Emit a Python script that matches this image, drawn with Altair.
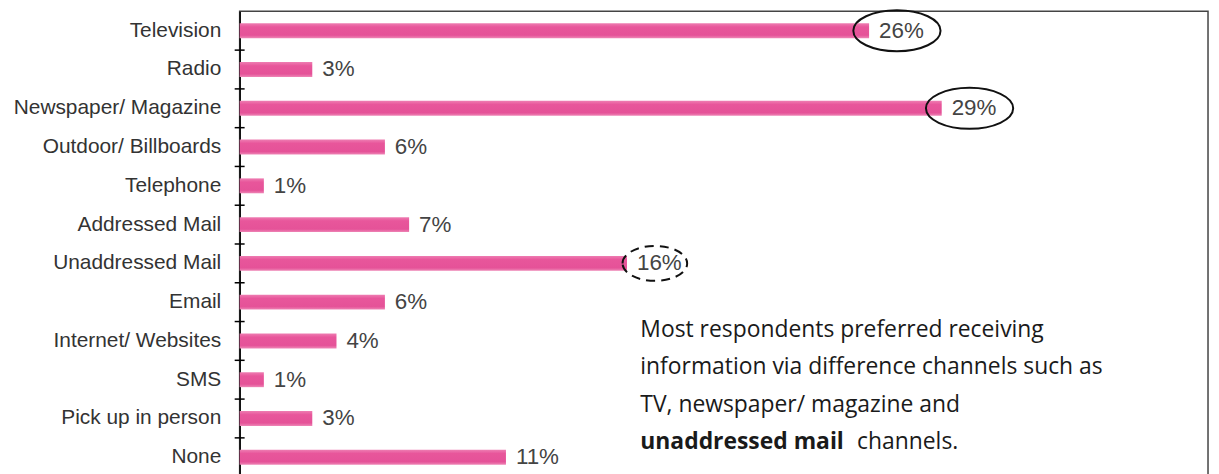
import altair as alt
import pandas as pd

# ---- data ----
categories = ["Television", "Radio", "Newspaper/ Magazine", "Outdoor/ Billboards",
              "Telephone", "Addressed Mail", "Unaddressed Mail", "Email",
              "Internet/ Websites", "SMS", "Pick up in person", "None"]
values = [26, 3, 29, 6, 1, 7, 16, 6, 4, 1, 3, 11]
value_labels = [f"{v}%" for v in values]
circled_solid = ["Television", "Newspaper/ Magazine"]
circled_dashed = ["Unaddressed Mail"]
note_lines = ["Most respondents preferred receiving",
              "information via difference channels such as",
              "TV, newspaper/ magazine and"]
note_bold = "unaddressed mail"
note_tail = "channels."

df = pd.DataFrame({"cat": categories, "val": values, "label": value_labels})

LABEL_FONT = "Liberation Sans"
NOTE_FONT = "Open Sans"


def ellipse_path(ry):
    k = 0.5523
    return (f"M -1 0 C -1 {-k*ry:.4f} {-k:.4f} {-ry:.4f} 0 {-ry:.4f} "
            f"C {k:.4f} {-ry:.4f} 1 {-k*ry:.4f} 1 0 "
            f"C 1 {k*ry:.4f} {k:.4f} {ry:.4f} 0 {ry:.4f} "
            f"C {-k:.4f} {ry:.4f} -1 {k*ry:.4f} -1 0 Z")


x_enc = alt.X("val:Q", scale=alt.Scale(domain=[0, 40], nice=False, zero=True), axis=None)
y_enc = alt.Y("cat:N", sort=categories, title=None,
              scale=alt.Scale(paddingInner=0, paddingOuter=0),
              axis=alt.Axis(labelFont=LABEL_FONT, labelFontSize=21, labelColor="#333333",
                            labelPadding=19, ticks=False, tickSize=0, domain=True,
                            domainColor="#000000", domainWidth=1.5, grid=False,
                            labelLimit=300))
y_plain = alt.Y("cat:N", sort=categories)

bar_fill = alt.Gradient(
    gradient="linear",
    stops=[alt.GradientStop(color="#ee7db2", offset=0),
           alt.GradientStop(color="#e8569b", offset=0.25),
           alt.GradientStop(color="#e55298", offset=0.8),
           alt.GradientStop(color="#ee86b6", offset=1)],
    x1=0, x2=0, y1=0, y2=1)

bars = alt.Chart(df).mark_bar(height=15, color=bar_fill).encode(x=x_enc, y=y_enc)

texts = alt.Chart(df).mark_text(align="left", baseline="middle", dx=10, font=LABEL_FONT,
                                fontSize=22.5, color="#444444").encode(
    x=x_enc, y=y_plain, text="label:N")

ticks = alt.Chart(df).transform_filter(
    alt.datum.cat != categories[0]
).mark_rule(color="#000000", strokeWidth=1.5).encode(
    y=alt.Y("cat:N", sort=categories, bandPosition=0),
    x=alt.value(-5), x2=alt.value(5))

solid_ell = alt.Chart(df).transform_filter(
    alt.FieldOneOfPredicate(field="cat", oneOf=circled_solid)
).mark_point(shape=ellipse_path(0.47), size=7700, filled=False, color="#111111",
             strokeWidth=2, opacity=1, xOffset=28).encode(x=x_enc, y=y_plain)

dashed_ell = alt.Chart(df).transform_filter(
    alt.FieldOneOfPredicate(field="cat", oneOf=circled_dashed)
).mark_point(shape=ellipse_path(0.54), size=4225, filled=False, color="#111111",
             strokeWidth=2, opacity=1, strokeDash=[9, 6], xOffset=28).encode(x=x_enc, y=y_plain)

note_layers = []
line_y = [321, 358, 396]
for txt, yy in zip(note_lines, line_y):
    note_layers.append(
        alt.Chart(pd.DataFrame({"t": [txt]})).mark_text(
            align="left", baseline="middle", font=NOTE_FONT, fontSize=23, color="#1a1a1a"
        ).encode(text="t:N", x=alt.value(403), y=alt.value(yy)))
note_layers.append(
    alt.Chart(pd.DataFrame({"t": [note_bold]})).mark_text(
        align="left", baseline="middle", font=NOTE_FONT, fontSize=23, fontWeight="bold",
        color="#1a1a1a").encode(text="t:N", x=alt.value(403), y=alt.value(433)))
note_layers.append(
    alt.Chart(pd.DataFrame({"t": [note_tail]})).mark_text(
        align="left", baseline="middle", font=NOTE_FONT, fontSize=23, color="#1a1a1a"
    ).encode(text="t:N", x=alt.value(621), y=alt.value(433)))

chart = alt.layer(bars, texts, ticks, solid_ell, dashed_ell, *note_layers).properties(
    width=974, height=468,
    autosize=alt.AutoSizeParams(type="none"),
    padding={"left": 233, "top": 2, "right": 3, "bottom": 0},
    background="#ffffff",
).configure_view(stroke="#444444", strokeWidth=1.5)

chart.save("out.html", embed_options={"renderer": "svg", "actions": False})
